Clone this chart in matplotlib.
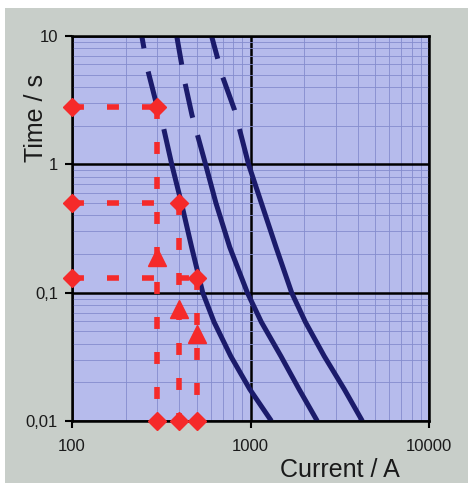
import matplotlib
matplotlib.use("Agg")
import matplotlib.pyplot as plt
from matplotlib import patches, ticker

plt.rcParams["font.family"] = ["Liberation Sans", "DejaVu Sans"]
plt.rcParams["lines.scale_dashes"] = False

# three tripping curves (current in A, time in s)
time_1 = [10, 5.4, 2.8, 1.95, 1, 0.5, 0.226, 0.1, 0.059, 0.032, 0.0177, 0.01]
current_1 = [246, 266, 300, 325, 362, 410, 468, 540, 625, 775, 990, 1309]
time_2 = [10, 4.4, 2.42, 1, 0.5, 0.226, 0.1, 0.059, 0.032, 0.0177, 0.01]
current_2 = [386, 428, 470, 560, 640, 765, 960, 1150, 1480, 1870, 2365]
time_3 = [10, 4.8, 2.65, 1, 0.5, 0.226, 0.1, 0.059, 0.032, 0.0177, 0.01]
current_3 = [605, 698, 814, 975, 1150, 1390, 1700, 2030, 2588, 3350, 4230]

# red reading lines: point on the time axis, point on the curve
read_currents = [300, 400, 500]
read_times = [2.8, 0.5, 0.13]
arrow_times = [0.19, 0.075, 0.048]

x_ticks = [100, 1000, 10000]
x_labels = ["100", "1000", "10000"]
y_ticks = [0.01, 0.1, 1, 10]
y_labels = ["0,01", "0,1", "1", "10"]

navy = "#1b1b6b"
red = "#f52a2a"

fig = plt.figure(figsize=(4.7, 4.83), dpi=100, facecolor="white")
fig.patches.append(patches.Rectangle((5 / 470, 0), 463 / 470, 475 / 483,
                                     transform=fig.transFigure, facecolor="#c8cec9",
                                     edgecolor="none", zorder=-10))
ax = fig.add_axes([0.1532, 0.1284, 0.7596, 0.7971])
ax.set_facecolor("#b6bbec")
ax.set_xscale("log")
ax.set_yscale("log")
ax.set_xlim(100, 10000)
ax.set_ylim(0.01, 10)

# grid
ax.grid(True, which="minor", color="#848cce", lw=0.6, zorder=0)
ax.grid(True, which="major", color="black", lw=1.8, zorder=0.5)
ax.set_axisbelow(True)

# curves (dashed at the top, solid below)
dash_patterns = [(9, 17, 23, 20, 2000, 1), (21, 14, 25, 13, 2000, 1), (17, 14, 25, 14, 2000, 1)]
for cur, t, dp in zip([current_1, current_2, current_3], [time_1, time_2, time_3], dash_patterns):
    line, = ax.plot(cur, t, color=navy, lw=3.6, solid_capstyle="butt", dash_capstyle="butt",
                    solid_joinstyle="round", zorder=3)
    line.set_dashes(dp)

# red reading lines
for c, t in zip(read_currents, read_times):
    ax.plot([100, c], [t, t], color=red, lw=4, dashes=(8.6, 16.6), dash_capstyle="butt", zorder=4)
    ax.plot([c, c], [t, 0.01], color=red, lw=4, dashes=(8.6, 16.6), dash_capstyle="butt", zorder=4)
ax.plot([100] * 3, read_times, ls="none", marker="D", ms=9, color=red, zorder=6, clip_on=False)
ax.plot(read_currents, read_times, ls="none", marker="D", ms=9, color=red, zorder=6, clip_on=False)
ax.plot(read_currents, [0.01] * 3, ls="none", marker="D", ms=9, color=red, zorder=6, clip_on=False)
ax.plot(read_currents, arrow_times, ls="none", marker="^", ms=13, color=red, zorder=6)

for s in ax.spines.values():
    s.set_linewidth(1.8)
    s.set_color("black")
    s.set_zorder(5)

ax.xaxis.set_major_locator(ticker.FixedLocator(x_ticks))
ax.xaxis.set_major_formatter(ticker.FixedFormatter(x_labels))
ax.yaxis.set_major_locator(ticker.FixedLocator(y_ticks))
ax.yaxis.set_major_formatter(ticker.FixedFormatter(y_labels))
ax.tick_params(which="major", length=5, width=1.5, color="black", labelsize=12, labelcolor="#1a1a1a")
ax.tick_params(axis="x", pad=8)
ax.tick_params(axis="y", pad=5)
ax.tick_params(which="minor", length=0)

ax.set_ylabel("Time / s", fontsize=18, color="#1a1a1a")
ax.yaxis.set_label_coords(-0.067, 0.787)
ax.set_xlabel("Current / A", fontsize=18, color="#1a1a1a")
ax.xaxis.set_label_coords(0.75, -0.096)

fig.savefig("out.png", dpi=100, facecolor=fig.get_facecolor())
